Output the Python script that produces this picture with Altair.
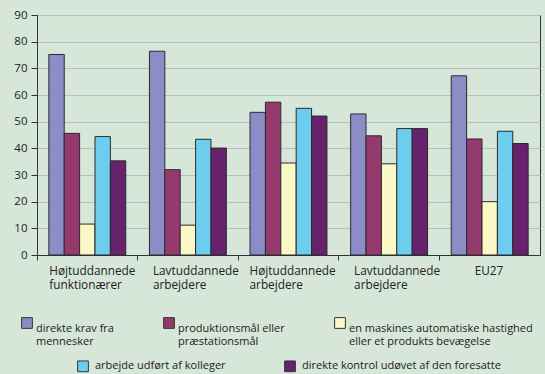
import altair as alt
import pandas as pd

# Worker groups on the x axis
groups = [
    "Højtuddannede\nfunktionærer",
    "Lavtuddannede\narbejdere",
    "Højtuddannede\narbejdere",
    "Lavtuddannede\narbejdere ",
    "EU27",
]

# Pace determinants (series); "\n" marks the legend line break
series = [
    "direkte krav fra\nmennesker",
    "produktionsmål eller\npræstationsmål",
    "en maskines automatiske hastighed\neller et produkts bevægelse",
    "arbejde udført af kolleger",
    "direkte kontrol udøvet af den foresatte",
]
colors = ["#8b8ec6", "#943a6e", "#fbf8c8", "#6dcdee", "#66226c"]

# Percentages per series, one value per group
krav_mennesker = [75.2, 76.4, 53.5, 52.9, 67.2]
produktionsmaal = [45.6, 32.0, 57.3, 44.7, 43.5]
maskine_hastighed = [11.6, 11.2, 34.5, 34.2, 20.0]
kolleger = [44.4, 43.4, 55.0, 47.4, 46.4]
foresatte = [35.3, 40.1, 52.1, 47.4, 41.8]

values = [krav_mennesker, produktionsmaal, maskine_hastighed, kolleger, foresatte]
rows = []
for s, vals in zip(series, values):
    for g, v in zip(groups, vals):
        rows.append({"gruppe": g, "faktor": s, "pct": v})
df = pd.DataFrame(rows)

# Left-aligned group labels, shifted from the band centre
label_offsets = [-38, -35, -39, -35, -15]
offset_expr = {
    "condition": [
        {"test": f"datum.index == {i / (len(groups) - 1)}", "value": o}
        for i, o in enumerate(label_offsets)
    ],
    "value": -36,
}

x_enc = alt.X(
    "gruppe:N",
    sort=groups,
    title=None,
    scale=alt.Scale(paddingInner=0, paddingOuter=0),
    axis=alt.Axis(
        bandPosition=0,
        labelAngle=0,
        labelAlign="left",
        labelBaseline="top",
        labelExpr="split(datum.label, '\\n')",
        labelLineHeight=14.5,
        labelPadding=5,
        labelOffset=offset_expr,
        labelFontSize=11.8,
        labelColor="#222222",
        tickSize=5,
        tickColor="#333333",
        domainColor="#333333",
        labelLimit=200,
    ),
)
y_enc = alt.Y(
    "pct:Q",
    title=None,
    scale=alt.Scale(domain=[0, 90], nice=False),
    axis=alt.Axis(
        values=list(range(0, 91, 10)),
        grid=True,
        gridColor="#bcbcbc",
        gridWidth=1,
        tickSize=6,
        tickColor="#333333",
        domainColor="#333333",
        labelFontSize=11.5,
        labelColor="#222222",
        labelPadding=4,
    ),
)
xoff_enc = alt.XOffset(
    "faktor:N",
    sort=series,
    scale=alt.Scale(domain=series, paddingInner=0, paddingOuter=0.77),
)


def bar_layer(idx, legend_x, legend_y, col_pad, label_off, baseline):
    dom = [series[i] for i in idx]
    rng = [colors[i] for i in idx]
    return (
        alt.Chart(df)
        .transform_filter(alt.FieldOneOfPredicate(field="faktor", oneOf=dom))
        .mark_bar(stroke="#2b2b2b", strokeWidth=1)
        .encode(
            x=x_enc,
            y=y_enc,
            xOffset=xoff_enc,
            color=alt.Color(
                "faktor:N",
                scale=alt.Scale(domain=dom, range=rng),
                legend=alt.Legend(
                    title=None,
                    orient="none",
                    legendX=legend_x,
                    legendY=legend_y,
                    direction="horizontal",
                    columns=len(dom),
                    columnPadding=col_pad,
                    symbolType="square",
                    symbolSize=115,
                    symbolStrokeColor="#333333",
                    symbolStrokeWidth=1,
                    symbolOpacity=1,
                    labelExpr="split(datum.label, '\\n')",
                    labelFontSize=11,
                    labelColor="#222222",
                    labelLimit=300,
                    labelOffset=label_off,
                    labelBaseline=baseline,
                    padding=0,
                ),
            ),
        )
    )


chart = (
    alt.layer(
        bar_layer([0, 1, 2], -16, 302, 47, 3, "top"),
        bar_layer([3, 4], 40, 345, 56, 6, "middle"),
    )
    .resolve_scale(color="independent")
    .properties(
        width=503,
        height=240,
        background="#d6e6d8",
        padding={"left": 37, "top": 15, "right": 5, "bottom": 119},
        autosize=alt.AutoSizeParams(type="none"),
    )
    .configure(font="Open Sans")
    .configure_view(stroke="#333333", strokeWidth=1)
)

chart.save("out.html", embed_options={"renderer": "svg", "actions": False})
